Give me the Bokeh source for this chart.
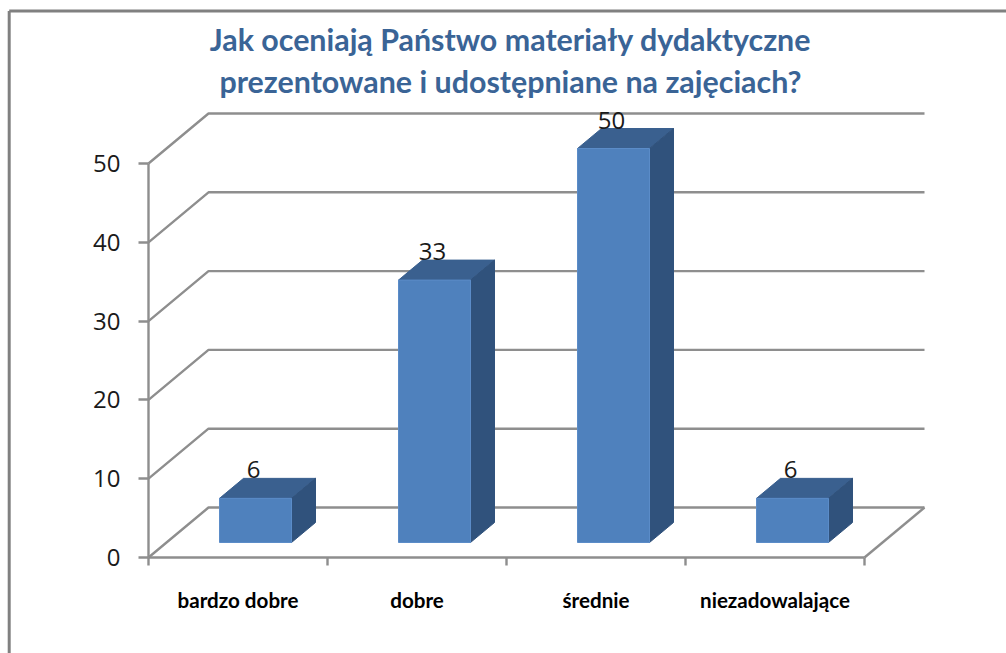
from bokeh.plotting import figure
from bokeh.models import Range1d, LinearAxis, FixedTicker
from bokeh.core.properties import value
from bokeh.embed import file_html
from bokeh.resources import INLINE

title_lines = ["Jak oceniają Państwo materiały dydaktyczne", "prezentowane i udostępniane na zajęciach?"]
categories = ["bardzo dobre", "dobre", "średnie", "niezadowalające"]
values = [5.6, 33.3, 50.0, 5.6]
y_ticks = [0, 10, 20, 30, 40, 50]

W, H = 1006, 653
PX_X = 179.0     # pixels per category
PX_Y = 7.88      # pixels per value unit
LEFT = 148.0     # px of category edge 0
ZERO = 557.0     # px (from top) of value 0

def ux(px):
    return px / PX_X

def uy(px):
    return px / PX_Y

x0 = -LEFT / PX_X
x1 = (W - LEFT) / PX_X
y1 = ZERO / PX_Y
y0 = -(H - ZERO) / PX_Y

p = figure(width=W, height=H, output_backend="svg", toolbar_location=None,
           x_range=Range1d(x0, x1), y_range=Range1d(y0, y1),
           x_axis_type=None, y_axis_type=None, min_border=0,
           background_fill_color="white", border_fill_color="white",
           outline_line_color=None)

GRID = "#8e8e8e"
LW = 2.4
DX, DY = ux(60), uy(50)
n = len(categories)
DIGITS = "Open Sans"

# outer frame (its right and bottom sides fall outside the picture)
p.line([x0 + ux(8.7), x0 + ux(8.7)], [y0, y1 - uy(10.5)], line_color="#808080", line_width=3)
p.line([x0 + ux(8.7), x1], [y1 - uy(10.5), y1 - uy(10.5)], line_color="#808080", line_width=3)

# walls and floor
for v in y_ticks:
    p.line([0, DX, n + DX], [v, v + DY, v + DY], line_color=GRID, line_width=LW)
p.line([n, n + DX], [0, DY], line_color=GRID, line_width=LW)

# axes
ya = LinearAxis(fixed_location=0, bounds=(0, 50), ticker=FixedTicker(ticks=y_ticks))
ya.axis_line_color = GRID
ya.axis_line_width = LW
ya.major_tick_line_color = GRID
ya.major_tick_line_width = LW
ya.major_tick_out = 10
ya.major_tick_in = 0
ya.minor_tick_out = 0
ya.major_label_standoff = 18
ya.major_label_text_font = DIGITS
ya.major_label_text_font_size = "24px"
ya.major_label_text_color = "#1a1a1a"
p.add_layout(ya, "left")

xa = LinearAxis(fixed_location=0, bounds=(0, n),
                ticker=FixedTicker(ticks=[i + 0.5 for i in range(n)],
                                   minor_ticks=list(range(n + 1))))
xa.major_label_overrides = {i + 0.5: c for i, c in enumerate(categories)}
xa.axis_line_color = GRID
xa.axis_line_width = LW
xa.major_tick_out = 0
xa.major_tick_in = 0
xa.minor_tick_line_color = GRID
xa.minor_tick_line_width = LW
xa.minor_tick_out = 8
xa.minor_tick_in = 0
xa.major_label_standoff = 22
xa.major_label_text_font = "Lato"
xa.major_label_text_font_style = "bold"
xa.major_label_text_font_size = "20.6px"
xa.major_label_text_color = "#000000"
p.add_layout(xa, "below")

# 3-D columns
BW = ux(72)
BDX, BDY = ux(24), uy(20)
OFFX, BASE = ux(17.5), uy(15)
lefts = [i + 0.5 + OFFX - BW / 2 for i in range(n)]
rights = [l + BW for l in lefts]
tops = [BASE + v for v in values]

p.patches([[l, r, r + BDX, l + BDX] for l, r in zip(lefts, rights)],
          [[t, t, t + BDY, t + BDY] for t in tops],
          fill_color="#3A608F", line_color="#3A608F", line_width=1)
p.patches([[r, r + BDX, r + BDX, r] for r in rights],
          [[BASE, BASE + BDY, t + BDY, t] for t in tops],
          fill_color="#30527C", line_color="#30527C", line_width=1)
p.quad(left=lefts, right=rights, bottom=[BASE] * n, top=tops,
       fill_color="#4F81BD", line_color="#5B8CC8", line_width=1)

# data labels
p.text([0.5 * (l + r) - ux(2) for l, r in zip(lefts, rights)],
       [t + BDY for t in tops],
       text=[str(round(v)) for v in values],
       text_font=value(DIGITS), text_font_size="24px", text_color="#1a1a1a",
       text_align="center", text_baseline="bottom")

# title
p.text([ux(510 - 148)] * 2, [uy(557 - 38), uy(557 - 80)], text=title_lines,
       text_font=value("Lato"), text_font_style="bold", text_font_size="30.4px",
       text_color="#3A6496", text_align="center", text_baseline="alphabetic")

open("out.html", "w").write(file_html(p, INLINE))
